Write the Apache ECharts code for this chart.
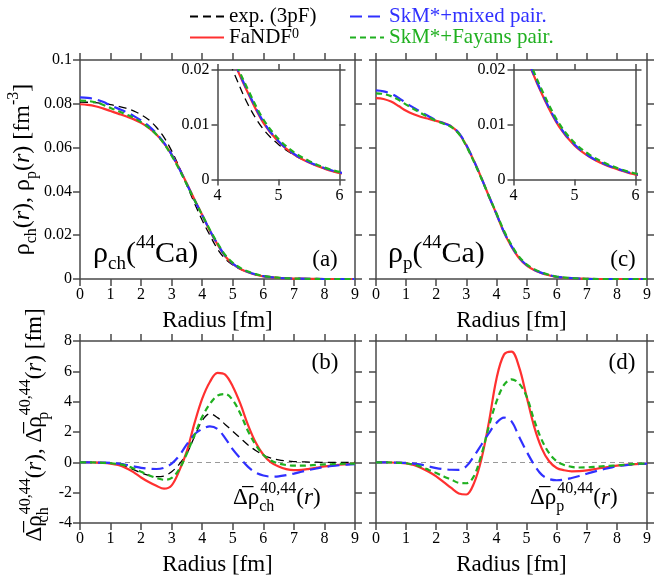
<!DOCTYPE html>
<html>
<head>
<meta charset="utf-8">
<script src="https://cdn.jsdelivr.net/npm/echarts@6/dist/echarts.min.js"></script>
<style>
html,body{margin:0;padding:0;background:#fff;font-family:'Liberation Serif', serif;}
#chart{width:654px;height:582px;}
</style>
</head>
<body>
<div id="chart"></div>
<script>
// ---------- data ----------
const rDens = [0,0.25,0.5,0.75,1,1.25,1.5,1.75,2,2.25,2.5,2.75,3,3.25,3.5,3.75,4,4.25,4.5,4.75,5,5.25,5.5,5.75,6,6.5,7,7.5,8,8.5,9];

// (a) charge density of 44Ca
const chExp = [0.0808,0.0807,0.0805,0.0801,0.0796,0.0789,0.0780,0.0768,0.0750,0.0727,0.0693,0.0647,0.0585,0.0510,0.0427,0.0345,0.0268,0.0200,0.0137,0.0092,0.0064,0.0045,0.0031,0.0020,0.0012,0.0005,0.0002,0.0001,0,0,0];
const chFa  = [0.0798,0.0795,0.0789,0.0779,0.0767,0.0755,0.0743,0.0730,0.0713,0.0690,0.0660,0.0620,0.0568,0.0505,0.0435,0.0362,0.0292,0.0220,0.0158,0.0104,0.0069,0.0046,0.0031,0.0020,0.0012,0.0005,0.0002,0.0001,0,0,0];
const chMix = [0.0829,0.0827,0.0821,0.0809,0.0793,0.0778,0.0763,0.0745,0.0724,0.0698,0.0665,0.0622,0.0568,0.0503,0.0432,0.0360,0.0291,0.0222,0.0160,0.0106,0.0070,0.0047,0.0032,0.0021,0.0013,0.0005,0.0002,0.0001,0,0,0];
const chFay = [0.0815,0.0813,0.0807,0.0796,0.0781,0.0767,0.0752,0.0736,0.0716,0.0691,0.0660,0.0618,0.0563,0.0500,0.0430,0.0360,0.0292,0.0225,0.0164,0.0110,0.0074,0.0050,0.0034,0.0022,0.0014,0.0006,0.0002,0.0001,0,0,0];

// (c) proton density of 44Ca
const pFa  = [0.0826,0.0822,0.0810,0.0790,0.0768,0.0752,0.0740,0.0731,0.0722,0.0712,0.0697,0.0665,0.0610,0.0540,0.0462,0.0378,0.0297,0.0213,0.0148,0.0096,0.0062,0.0041,0.0027,0.0017,0.0009,0.0003,0.0001,0,0,0,0];
const pMix = [0.0861,0.0857,0.0846,0.0827,0.0803,0.0782,0.0762,0.0743,0.0725,0.0711,0.0697,0.0667,0.0612,0.0540,0.0461,0.0378,0.0297,0.0215,0.0150,0.0098,0.0064,0.0042,0.0028,0.0018,0.0010,0.0004,0.0001,0,0,0,0];
const pFay = [0.0848,0.0845,0.0835,0.0818,0.0796,0.0776,0.0757,0.0739,0.0722,0.0709,0.0694,0.0663,0.0607,0.0536,0.0459,0.0378,0.0300,0.0220,0.0155,0.0102,0.0067,0.0045,0.0030,0.0019,0.0011,0.0004,0.0001,0,0,0,0];

const rDelta = [0,0.25,0.5,0.75,1,1.25,1.5,1.75,2,2.25,2.5,2.75,3,3.25,3.5,3.75,4,4.25,4.5,4.75,5,5.25,5.5,5.75,6,6.25,6.5,6.75,7,7.25,7.5,7.75,8,8.25,8.5,8.75,9];

// (b) charge density difference 40,44
const dchExp = [0,0,-0.01,-0.03,-0.07,-0.14,-0.27,-0.48,-0.70,-0.86,-0.94,-0.90,-0.62,-0.12,0.60,1.70,2.75,3.20,2.95,2.50,2.05,1.60,1.15,0.78,0.48,0.28,0.16,0.09,0.05,0.03,0.02,0.01,0,0,0,0,0];
const dchFa  = [0,0,-0.01,-0.03,-0.08,-0.18,-0.37,-0.65,-1.00,-1.30,-1.55,-1.74,-1.52,-0.55,0.75,2.60,4.20,5.30,5.90,5.78,5.00,3.85,2.45,1.30,0.50,0.00,-0.28,-0.45,-0.52,-0.50,-0.43,-0.35,-0.27,-0.21,-0.16,-0.12,-0.09];
const dchMix = [0,0,-0.01,-0.02,-0.04,-0.09,-0.16,-0.26,-0.36,-0.42,-0.44,-0.36,-0.08,0.45,1.20,1.85,2.20,2.37,2.20,1.60,0.85,0.25,-0.30,-0.68,-0.87,-0.94,-0.92,-0.84,-0.74,-0.62,-0.50,-0.40,-0.31,-0.24,-0.19,-0.15,-0.12];
const dchFay = [0,0,-0.01,-0.03,-0.06,-0.12,-0.22,-0.40,-0.62,-0.85,-1.03,-1.15,-1.03,-0.45,0.60,1.80,3.00,3.85,4.40,4.50,4.10,3.20,2.05,1.15,0.50,0.12,-0.08,-0.18,-0.22,-0.22,-0.20,-0.17,-0.14,-0.12,-0.10,-0.09,-0.08];

// (d) proton density difference 40,44
const dpFa  = [0,0,-0.01,-0.03,-0.07,-0.18,-0.37,-0.62,-0.92,-1.30,-1.69,-2.05,-2.12,-1.40,0.20,2.65,5.50,7.10,7.30,6.30,4.35,2.37,0.94,0.07,-0.37,-0.52,-0.59,-0.58,-0.53,-0.45,-0.37,-0.30,-0.22,-0.17,-0.13,-0.10,-0.08];
const dpMix = [0,0,-0.01,-0.02,-0.04,-0.08,-0.15,-0.27,-0.38,-0.45,-0.49,-0.50,-0.26,0.40,1.16,1.93,2.60,2.95,2.70,1.70,0.72,-0.15,-0.81,-1.10,-1.18,-1.14,-1.03,-0.90,-0.75,-0.61,-0.48,-0.37,-0.26,-0.20,-0.15,-0.11,-0.08];
const dpFay = [0,0,-0.01,-0.03,-0.06,-0.15,-0.30,-0.50,-0.70,-0.93,-1.14,-1.35,-1.38,-0.92,0.50,2.37,4.00,5.10,5.47,5.20,4.35,2.80,1.50,0.60,0.07,-0.17,-0.30,-0.34,-0.33,-0.30,-0.26,-0.23,-0.20,-0.16,-0.12,-0.09,-0.07];

const xTicksMain = [0, 9, 1];     // min, max, interval
const yTicksDens = [0, 0.1, 0.02];
const yTicksDelta = [-4, 8, 2];
const xTicksInset = [4, 6, 1];
const yTicksInset = [0, 0.02, 0.01];

// ---------- styles ----------
const FONT = 'Liberation Serif';
const AX = '#4a4a4a';
const styles = {
  'exp. (3pF)':        {color:'#000000', width:1.3, type:[8,5]},
  'FaNDF0':            {color:'#ff3030', width:2.2, type:'solid'},
  'SkM*+mixed pair.':  {color:'#3030ff', width:2.2, type:[12,6]},
  'SkM*+Fayans pair.': {color:'#20b020', width:2.2, type:[6,4]}
};

function zip(xs, ys){ return xs.map((x,i)=>[x, ys[i]]); }
function f(size, italic){ return (italic ? 'italic ' : '') + size + 'px "Liberation Serif", serif'; }

const grids = [
  {left:80,  top:60,  width:275, height:219},  // a
  {left:376, top:60,  width:275, height:219},  // c
  {left:80,  top:341, width:275, height:182},  // b
  {left:376, top:341, width:275, height:182},  // d
  {left:217.5, top:70, width:122, height:109.5}, // inset a
  {left:513.5, top:70, width:122, height:109.5}  // inset c
];

const xAxes = [], yAxes = [];
function addAxes(g, xr, yr, showXLabel, showYLabel, tickLen, xName, yName, yNameGap){
  const common = {
    gridIndex:g, splitLine:{show:false},
    axisLine:{show:true, onZero:false, lineStyle:{color:AX, width:1.5}},
    axisTick:{show:true, inside:false, length:tickLen, lineStyle:{color:AX, width:1.5}},
  };
  xAxes.push(Object.assign({}, common, {
    type:'value', position:'bottom', min:xr[0], max:xr[1], interval:xr[2],
    axisLabel:{show:showXLabel, color:'#000', fontFamily:FONT, fontSize:16, margin:8},
    name: xName || '', nameLocation:'middle', nameGap:30,
    nameTextStyle:{fontFamily:FONT, fontSize:23, color:'#000'}
  }));
  xAxes.push(Object.assign({}, common, {
    type:'value', position:'top', min:xr[0], max:xr[1], interval:xr[2],
    axisLabel:{show:false}
  }));
  const yMain = Object.assign({}, common, {
    type:'value', position:'left', min:yr[0], max:yr[1], interval:yr[2],
    axisLabel:{show:showYLabel, color:'#000', fontFamily:FONT, fontSize:16, margin:8}
  });
  if (yName) {
    Object.assign(yMain, {name:yName.text, nameLocation:'middle', nameRotate:90, nameGap:yNameGap,
      nameTextStyle:{fontFamily:FONT, fontSize:24, color:'#000', rich:yName.rich, padding:yName.padding}});
  }
  yAxes.push(yMain);
  yAxes.push(Object.assign({}, common, {
    type:'value', position:'right', min:yr[0], max:yr[1], interval:yr[2],
    axisLabel:{show:false}
  }));
}

function richSet(big, small){
  return {
    b:{fontFamily:FONT, fontSize:big, lineHeight:34, color:'#000'},
    i:{fontFamily:FONT, fontSize:big, lineHeight:34, fontStyle:'italic', color:'#000'},
    s:{fontFamily:FONT, fontSize:small, lineHeight:14, verticalAlign:'bottom', color:'#000'},
    z:{fontFamily:FONT, fontSize:small, lineHeight:14, verticalAlign:'bottom', width:1, color:'#000'},
    u:{fontFamily:FONT, fontSize:small, lineHeight:15, verticalAlign:'top', color:'#000'}
  };
}
const yNameTop = {
  text:'{b|ρ}{s|ch}{b|(}{i|r}{b|), ρ}{s|p}{b|(}{i|r}{b|) [fm}{u|-3}{b|]}',
  rich: richSet(24, 16), padding:[0,0,0,0]
};
const yNameBot = {
  text:'{b|Δ\u0305ρ}{z|ch}{u|40,44}{b|(}{i|r}{b|), Δ\u0305ρ}{z|p}{u|40,44}{b|(}{i|r}{b|) [fm]}',
  rich: richSet(23, 16), padding:[0,0,0,14]
};

addAxes(0, xTicksMain, yTicksDens, true, true, 7, 'Radius [fm]', yNameTop, 25);
addAxes(1, xTicksMain, yTicksDens, true, false, 7, 'Radius [fm]');
addAxes(2, xTicksMain, yTicksDelta, true, true, 7, 'Radius [fm]', yNameBot, 28);
addAxes(3, xTicksMain, yTicksDelta, true, false, 7, 'Radius [fm]');
addAxes(4, xTicksInset, yTicksInset, true, true, 6);
addAxes(5, xTicksInset, yTicksInset, true, true, 6);

const series = [];
function addLine(name, g, xs, ys, extra){
  const st = styles[name];
  series.push(Object.assign({
    type:'line', name:name, xAxisIndex:2*g, yAxisIndex:2*g, data:zip(xs, ys),
    symbol:'none', showSymbol:false, smooth:0.35, clip:true,
    lineStyle:{color:st.color, width:st.width, type:st.type},
    itemStyle:{color:st.color}
  }, extra || {}));
}
const zeroLine = {markLine:{silent:true, symbol:['none','none'], label:{show:false},
  lineStyle:{color:'#999', type:[5,4], width:1}, data:[{yAxis:0}], z:1}};

// (a) + inset
[0,4].forEach(g=>{
  addLine('exp. (3pF)', g, rDens, chExp);
  addLine('FaNDF0', g, rDens, chFa);
  addLine('SkM*+mixed pair.', g, rDens, chMix);
  addLine('SkM*+Fayans pair.', g, rDens, chFay);
});
// (c) + inset
[1,5].forEach(g=>{
  addLine('FaNDF0', g, rDens, pFa);
  addLine('SkM*+mixed pair.', g, rDens, pMix);
  addLine('SkM*+Fayans pair.', g, rDens, pFay);
});
// (b)
addLine('exp. (3pF)', 2, rDelta, dchExp, zeroLine);
addLine('FaNDF0', 2, rDelta, dchFa);
addLine('SkM*+mixed pair.', 2, rDelta, dchMix);
addLine('SkM*+Fayans pair.', 2, rDelta, dchFay);
// (d)
addLine('FaNDF0', 3, rDelta, dpFa, zeroLine);
addLine('SkM*+mixed pair.', 3, rDelta, dpMix);
addLine('SkM*+Fayans pair.', 3, rDelta, dpFay);

const legendText = {fontFamily:FONT, fontSize:21, lineHeight:21,
  rich:{ t:{fontFamily:FONT, fontSize:21, lineHeight:21}, sp:{fontFamily:FONT, fontSize:14, lineHeight:21, verticalAlign:'top'} }};
function legendFmt(n){ return n === 'FaNDF0' ? '{t|FaNDF}{sp|0}' : n; }
const legendCommon = {orient:'vertical', itemGap:0, itemWidth:34, itemHeight:14, selectedMode:false,
  itemStyle:{opacity:0, borderWidth:0}, textStyle:legendText, formatter:legendFmt};
const legends = [
  Object.assign({left:184, top:1,
   data:[{name:'exp. (3pF)', textStyle:{color:'#000'}}, {name:'FaNDF0', textStyle:{color:'#ff3030'}}]}, legendCommon),
  Object.assign({left:344, top:1,
   data:[{name:'SkM*+mixed pair.', textStyle:{color:'#3030ff'}}, {name:'SkM*+Fayans pair.', textStyle:{color:'#20b020'}}]}, legendCommon)
];

const lblRich = {
  b:{font:f(30), lineHeight:40, fill:'#000'},
  s:{font:f(19), lineHeight:19, verticalAlign:'bottom', fill:'#000'},
  u:{font:f(19), lineHeight:19, verticalAlign:'top', fill:'#000'},
  m:{font:f(23), lineHeight:34, fill:'#000'},
  mi:{font:f(23, true), lineHeight:34, fill:'#000'},
  ms:{font:f(16), lineHeight:15, verticalAlign:'bottom', width:1, fill:'#000'},
  mu:{font:f(16), lineHeight:15, verticalAlign:'top', fill:'#000'}
};
function txt(x, y, text, align){
  return {type:'text', x:x, y:y, z:100, style:{text:text, font:f(23), fill:'#000',
    align:align||'center', verticalAlign:'middle', rich:lblRich}};
}
const graphics = [
  txt(325, 260, '(a)'), txt(623, 260, '(c)'), txt(325, 363, '(b)'), txt(622, 363, '(d)'),
  txt(93, 254, '{b|ρ}{s|ch}{b|(}{u|44}{b|Ca)}', 'left'),
  txt(388, 254, '{b|ρ}{s|p}{b|(}{u|44}{b|Ca)}', 'left'),
  txt(233, 498, '{m|Δ\u0305ρ}{ms|ch}{mu|40,44}{m|(}{mi|r}{m|)}', 'left'),
  txt(530, 498, '{m|Δ\u0305ρ}{ms|p}{mu|40,44}{m|(}{mi|r}{m|)}', 'left')
];

const chart = echarts.init(document.getElementById('chart'), null, {renderer:'canvas'});
chart.setOption({
  animation:false,
  backgroundColor:'#fff',
  textStyle:{fontFamily:FONT, color:'#000'},
  grid:grids,
  xAxis:xAxes,
  yAxis:yAxes,
  legend:legends,
  series:series,
  graphic:graphics
});
</script>
</body>
</html>
